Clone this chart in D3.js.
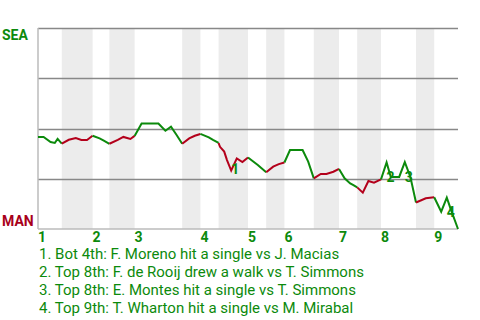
<!DOCTYPE html>
<html>
<head>
<meta charset="utf-8">
<script src="https://cdn.jsdelivr.net/npm/d3@7"></script>
<style>
body { margin: 0; background: #fff; }
svg { display: block; font-family: Roboto, sans-serif; }
</style>
</head>
<body>
<div id="chart-area"></div>
<script>
// cumulative pitch count after each play, and Seattle's win chance (%) at that point
const pitch = [
	0, 4, 9, 12, 14, 17,
	22, 27, 31, 35, 39,
	44, 47, 51,
	57, 61, 66, 69,
	74, 78, 82, 86, 91, 95, 99, 103,
	108, 112, 116,
	122, 125, 129,
	130, 133, 135, 138, 142, 146, 150,
	157, 163,
	168, 172, 176,
	180, 185, 189, 193, 197,
	202, 206, 211, 215,
	219, 223, 225, 228,
	232, 236, 240, 245,
	249, 252, 258, 262, 266, 270,
	277, 283,
	288, 292, 295, 300
];
const seaWin = [
	45.8, 45.8, 43.3, 42.8, 44.8, 42.5,
	44.4, 45.3, 44.3, 44.3, 46.4,
	45.1, 44.0, 42.4,
	44.3, 45.8, 44.8, 46.3,
	52.5, 52.5, 52.5, 52.5, 48.9, 50.9, 46.8, 42.4,
	45.1, 46.4, 47.3,
	45.6, 44.3, 42.8,
	40.9, 38.5, 34.3, 29.1, 35.1, 33.3, 35.6,
	31.8, 28.2,
	31.0, 32.3, 33.1,
	39.3, 39.3, 39.3, 33.5, 25.2,
	27.4, 27.4, 28.5, 29.9,
	25.2, 22.7, 21.9, 20.7,
	18.1, 23.9, 23.0, 24.7,
	33.1, 25.9, 25.9, 33.3, 25.9, 13.2,
	15.3, 15.8,
	8.6, 15.6, 9.5, 0
];
// pitch count where each half inning ends: top 1st, bottom 1st, top 2nd ...
const halfEnds = [17, 39, 51, 69, 103, 116, 129, 150, 163, 176, 197, 215, 228, 245, 270, 283, 300];
const innings = ["1", "2", "3", "4", "5", "6", "7", "8", "9"];
const teams = ["SEA", "MAN"];
const gridTicks = [25, 50, 75, 100];

const eventPitch = [138, 249, 262, 292];
const eventText = [
	"1. Bot 4th: F. Moreno hit a single vs J. Macias",
	"2. Top 8th: F. de Rooij drew a walk vs T. Simmons",
	"3. Top 8th: E. Montes hit a single vs T. Simmons",
	"4. Top 9th: T. Wharton hit a single vs M. Mirabal"
];

const green = "#0c8a0c";
const red = "#b3001b";

const svg = d3.select("#chart-area").append("svg")
	.attr("width", 480)
	.attr("height", 320);

const x = d3.scaleLinear()
	.domain([0, 300])
	.range([38, 458]);

const y = d3.scaleLinear()
	.domain([0, 100])
	.range([229, 28]);

const halfStart = i => i === 0 ? 0 : halfEnds[i - 1];

// shade the bottom halves
svg.append("g").selectAll("rect")
	.data(halfEnds.map((e, i) => i).filter(i => i % 2 === 1))
	.enter().append("rect")
	.attr("x", i => x(halfStart(i)))
	.attr("y", y(100))
	.attr("width", i => x(halfEnds[i]) - x(halfStart(i)))
	.attr("height", y(0) - y(100))
	.attr("fill", "#ececec");

svg.append("g").selectAll("line")
	.data(gridTicks)
	.enter().append("line")
	.attr("x1", x(0))
	.attr("x2", x(300))
	.attr("y1", d => Math.round(y(d)) + 0.5)
	.attr("y2", d => Math.round(y(d)) + 0.5)
	.attr("stroke", "#888")
	.attr("stroke-width", 1.5);

svg.append("line")
	.attr("x1", x(0)).attr("x2", x(300))
	.attr("y1", y(0)).attr("y2", y(0))
	.attr("stroke", "#bbb")
	.attr("stroke-width", 1.5);

svg.append("line")
	.attr("x1", x(0)).attr("x2", x(0))
	.attr("y1", y(100)).attr("y2", y(0))
	.attr("stroke", "#bbb")
	.attr("stroke-width", 1.5);

const line = d3.line()
	.x(i => x(pitch[i]))
	.y(i => y(seaWin[i]));

const idx = pitch.map((p, i) => i);

svg.append("g").selectAll("path")
	.data(halfEnds.map((e, h) => h))
	.enter().append("path")
	.attr("d", h => line(idx.filter(i => pitch[i] >= halfStart(h) && pitch[i] <= halfEnds[h])))
	.attr("fill", "none")
	.attr("stroke", h => h % 2 === 0 ? green : red)
	.attr("stroke-width", 2);

// event markers
const offsets = [[0, 3], [0, 20], [0, 20], [0, 19]];
svg.append("g").selectAll("text")
	.data(eventPitch)
	.enter().append("text")
	.attr("x", (p, i) => x(p) + offsets[i][0])
	.attr("y", (p, i) => y(seaWin[pitch.indexOf(p)]) + offsets[i][1])
	.attr("fill", green)
	.attr("font-size", 14)
	.attr("font-weight", "bold")
	.text((p, i) => i + 1);

// team labels
svg.append("text")
	.attr("x", 2)
	.attr("y", y(100) + 12)
	.attr("fill", green)
	.attr("font-size", 14)
	.attr("font-weight", "bold")
	.text(teams[0]);

svg.append("text")
	.attr("x", 2)
	.attr("y", y(0) - 3)
	.attr("fill", "#a8001a")
	.attr("font-size", 14)
	.attr("font-weight", "bold")
	.text(teams[1]);

// inning numbers at the start of each top half
svg.append("g").selectAll("text")
	.data(innings)
	.enter().append("text")
	.attr("x", (d, i) => x(halfStart(i * 2)))
	.attr("y", 242)
	.attr("fill", green)
	.attr("font-size", 14)
	.attr("font-weight", "bold")
	.text(d => d);

svg.append("g").selectAll("text")
	.data(eventText)
	.enter().append("text")
	.attr("x", 39)
	.attr("y", (d, i) => 259 + i * 18)
	.attr("fill", green)
	.attr("font-size", 15)
	.text(d => d);
</script>
</body>
</html>
